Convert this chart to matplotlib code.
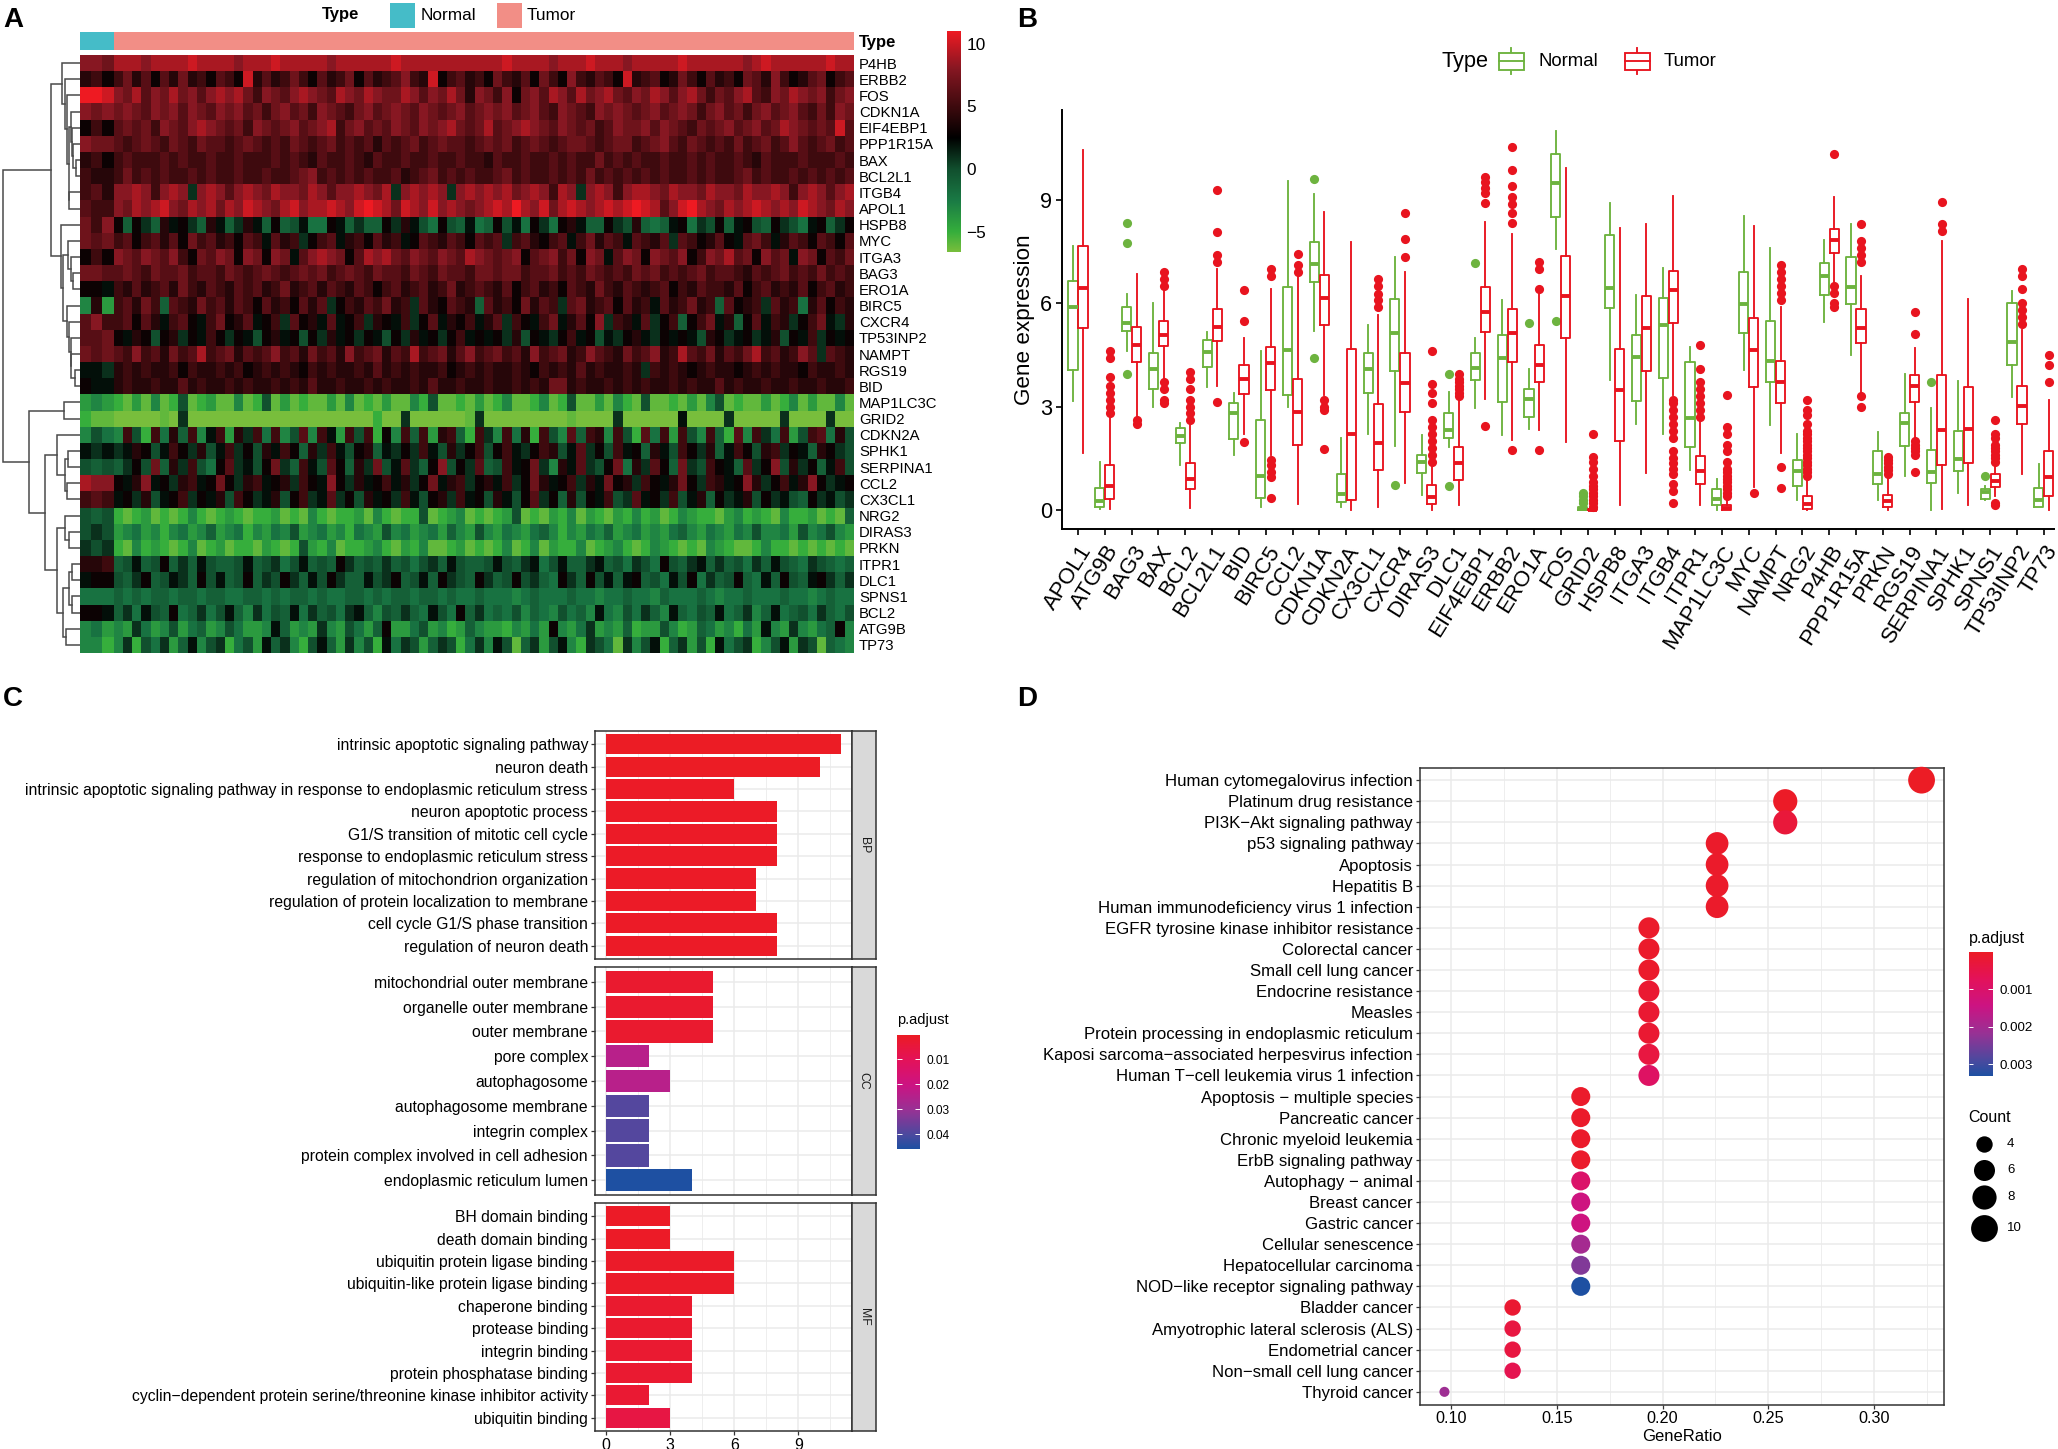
import numpy as np
import matplotlib
matplotlib.use('Agg')
import matplotlib.pyplot as plt
from matplotlib.colors import LinearSegmentedColormap, Normalize
from matplotlib.patches import Rectangle

plt.rcParams['font.family'] = ['Liberation Sans', 'DejaVu Sans']

W, H = 2058, 1449

# panel A: heatmap, rows top to bottom
hm_genes = ['P4HB','ERBB2','FOS','CDKN1A','EIF4EBP1','PPP1R15A','BAX','BCL2L1','ITGB4','APOL1','HSPB8','MYC','ITGA3','BAG3','ERO1A','BIRC5','CXCR4','TP53INP2','NAMPT','RGS19','BID','MAP1LC3C','GRID2','CDKN2A','SPHK1','SERPINA1','CCL2','CX3CL1','NRG2','DIRAS3','PRKN','ITPR1','DLC1','SPNS1','BCL2','ATG9B','TP73']
n_normal = 24
n_tumor = 527
hm_normal = [
 [8,8,7],[4,5,3],[11,11,10],[8,7,8],[3,5,3],[8,7,7],[4,5,3],[5,4,4],[5,6,4],[6,5,5],[7,5,8],[7,6,7],[3,5,3],[7,7,6],[3,3,2],
 [-3,4,-4],[6,8,5],[6,6,7],[7,6,7],[2,2,1],[3,2,2],[-4,-3,-4],[-5,-6,-6],[-3,0,-2],[2,1,2],[0,-1,0],[9,8,8],[5,6,5],
 [0,-1,0],[0,1,0],[1,0,1],[4,4,5],[2,3,3],[-2,-2,-2],[3,3,2],[-3,-2,-4],[-3,-3,-5]]
hm_tumor = [
 [9,9,9,8,9,9,9,9,10,9,9,9,9,8,9,9,9,10,9,9,9,9,9,8,9,9,9,9,9,9,10,9,9,9,9,9,9,9,9,9,9,9,10,9,9,9,9,8,9,9,9,10,9,9,9,8,9,9,9,9,9,10,9,9,9,9,9,9,8,9,10,9,9,9,9,9,9,10,9,9],
 [5,7,4,6,3,6,4,7,4,5,3,6,5,3,10,4,6,4,5,7,5,3,6,4,5,7,3,6,4,5,6,8,5,4,10,3,5,6,4,5,3,7,5,4,6,3,7,5,3,8,5,4,6,5,3,10,4,5,6,3,4,7,5,3,6,4,5,3,7,6,4,8,5,3,4,6,7,3,5,6],
 [8,7,9,6,8,7,9,7,8,6,8,9,8,9,7,5,8,7,6,8,9,8,7,6,9,8,7,9,8,7,7,9,8,6,8,7,9,7,4,8,7,5,8,3,7,8,6,9,8,6,9,7,8,9,7,6,8,7,9,8,6,8,9,7,5,7,6,8,9,6,5,8,7,9,8,7,8,5,7,8],
 [7,8,7,6,8,7,8,6,8,7,6,8,7,8,6,7,5,7,8,6,7,5,8,7,6,5,7,8,6,7,8,7,6,8,7,6,7,8,6,7,8,7,8,6,7,8,6,5,8,7,6,5,8,7,8,7,6,7,8,6,7,8,7,5,7,8,6,7,5,7,8,6,7,8,6,5,7,5,8,7],
 [6,7,6,7,5,8,7,6,8,9,8,7,6,7,5,8,7,6,7,8,6,7,8,9,5,7,8,6,7,6,8,7,6,8,7,8,9,7,6,7,9,6,7,8,9,8,7,6,8,7,6,7,5,6,8,7,7,8,6,8,7,6,5,7,6,7,8,6,7,8,6,7,9,8,7,6,7,6,10,6],
 [6,5,6,7,6,5,7,6,5,7,6,6,5,6,7,6,5,6,5,7,6,5,6,7,5,6,5,6,4,6,5,6,7,5,6,7,6,6,5,6,7,6,7,5,6,7,6,5,6,7,7,6,5,6,7,7,5,6,7,8,6,5,7,6,5,6,5,7,5,6,7,5,6,8,6,5,6,7,5,6],
 [5,6,5,5,5,6,5,6,5,5,6,5,5,6,5,5,5,6,5,6,5,4,6,5,5,6,5,4,6,5,5,6,5,5,6,5,5,6,5,5,4,6,5,5,6,5,5,6,5,6,5,5,7,5,6,5,6,5,5,6,5,5,6,5,6,5,5,6,5,4,6,5,5,5,6,5,5,5,6,5],
 [5,7,5,6,5,6,5,5,6,5,6,5,5,6,5,5,6,5,5,6,7,8,5,6,5,6,5,6,5,5,6,4,5,6,7,5,6,5,6,5,5,6,7,5,6,5,5,6,5,6,5,7,5,6,5,6,5,6,5,6,5,5,6,5,6,5,5,6,7,5,6,5,5,6,5,6,5,6,5,6],
 [8,8,9,8,5,8,9,8,1,8,9,8,6,8,9,8,7,9,8,8,7,9,8,6,8,8,9,8,7,9,1,8,9,8,9,8,1,8,9,8,9,8,9,7,8,9,8,5,9,8,1,8,9,8,5,8,9,9,8,7,9,8,8,7,9,8,8,7,9,8,8,9,8,5,8,9,8,6,8,9],
 [8,7,9,8,9,10,8,7,9,8,9,7,9,8,10,9,8,7,9,10,8,9,9,10,9,8,10,11,10,9,7,10,9,8,10,8,9,8,7,8,9,10,9,11,9,8,10,7,9,10,9,8,9,10,9,10,11,10,9,6,8,10,11,9,8,7,9,8,9,10,9,8,9,8,10,9,8,7,9,8],
 [3,-1,3,1,-1,4,2,3,1,-1,4,2,-1,1,4,2,-1,3,-1,0,2,-2,-2,3,2,-1,1,-1,-1,3,1,4,2,0,-2,3,0,-1,2,-2,-1,3,0,2,-2,3,1,-2,3,4,2,-1,-1,3,1,0,4,-1,-2,-1,2,3,-2,1,0,3,-1,2,3,0,-1,3,1,0,-2,2,3,-1,1,3],
 [5,6,3,5,6,4,6,3,7,5,6,4,5,3,6,5,2,6,4,5,1,3,5,6,2,4,5,3,6,4,5,2,3,6,5,4,6,5,3,6,5,6,1,5,6,4,3,5,6,2,5,7,4,6,5,2,6,5,4,6,1,6,5,3,4,6,3,2,6,7,5,2,4,6,5,3,6,5,3,6],
 [8,7,6,8,7,6,8,5,3,7,6,8,7,3,8,7,3,8,7,2,6,8,9,8,7,3,6,9,8,9,7,6,8,7,6,8,7,6,9,8,7,6,7,8,3,6,7,8,5,7,3,8,7,2,6,8,7,3,8,7,6,8,3,5,8,7,9,6,7,3,8,6,7,2,8,7,3,6,5,7],
 [6,7,6,5,7,6,6,7,5,6,6,5,7,6,5,6,7,6,5,6,7,6,7,5,6,7,6,5,7,6,6,5,7,6,5,7,6,6,5,7,7,6,7,7,5,6,6,7,5,6,5,7,6,5,6,5,7,6,7,5,6,5,6,7,5,6,6,5,4,6,5,6,7,5,6,5,7,5,6,5],
 [5,4,6,4,5,6,4,7,5,4,6,5,4,6,5,6,4,5,7,4,5,6,4,6,5,4,6,5,3,5,6,4,5,6,4,5,7,4,5,6,5,4,6,3,5,6,4,5,3,6,5,4,7,5,4,6,5,4,5,6,3,5,4,6,5,5,4,6,3,5,6,4,5,4,6,3,5,6,4,5],
 [5,6,4,7,5,-1,6,5,4,7,5,6,4,6,5,3,6,4,5,3,6,4,6,1,3,5,4,6,5,7,4,5,1,6,4,3,6,5,4,-1,6,4,5,3,7,4,6,5,1,6,7,4,5,6,3,6,4,5,2,6,4,5,7,4,5,-1,6,3,4,5,1,6,4,5,-2,4,6,3,5,4],
 [5,6,3,6,4,2,5,6,3,2,5,7,3,4,6,2,3,5,1,6,3,4,2,6,2,3,5,1,4,3,2,5,1,3,6,2,4,3,5,2,4,6,1,5,3,2,5,7,2,4,6,3,8,1,5,4,2,6,1,3,5,-1,3,5,7,2,4,-1,3,6,2,5,4,1,3,5,7,2,1,4],
 [3,2,4,3,0,3,4,1,3,2,5,3,1,3,2,0,3,4,2,3,0,3,1,4,2,3,1,3,2,0,3,1,4,2,3,1,3,5,2,3,2,3,1,4,0,3,2,1,3,5,2,3,0,2,1,3,4,2,1,3,2,3,2,0,4,3,1,2,3,1,2,4,0,3,2,5,1,3,2,3],
 [6,5,8,5,6,4,7,5,6,9,5,6,7,4,6,5,6,8,5,6,4,7,5,6,4,8,5,6,7,4,6,5,9,5,6,7,4,6,8,5,6,7,5,6,4,8,5,6,7,4,5,8,6,5,4,7,5,6,8,4,5,9,6,5,7,4,6,5,7,9,5,6,4,5,8,6,1,6,5,4],
 [4,5,4,5,4,4,5,3,5,4,4,5,4,5,3,4,5,4,5,4,3,5,4,5,4,4,5,4,6,4,5,4,5,4,4,5,3,4,5,4,5,4,4,5,4,3,5,4,5,4,6,4,5,4,4,5,4,1,5,4,5,4,3,4,5,4,4,3,4,5,4,5,4,4,3,5,4,4,5,4],
 [4,5,4,4,5,4,4,6,4,5,4,4,5,4,5,4,4,5,4,5,4,6,4,4,5,4,4,5,4,5,4,4,5,4,6,4,4,5,4,4,5,4,4,5,4,5,4,7,7,4,5,4,4,5,4,5,4,5,4,4,5,4,5,4,4,6,4,5,4,4,5,4,4,5,4,4,5,4,4,5],
 [-5,-6,-4,-6,-3,-6,-5,0,-6,-5,-4,-6,-6,-3,-6,-5,0,-6,-4,-6,-5,-6,-6,-4,-6,-3,-6,-5,-6,-4,-6,-6,-3,-5,0,-6,-6,-5,-6,-4,-6,-5,-3,-6,-6,-5,-3,-6,-5,0,-6,-6,-4,-6,-3,-5,-6,0,-6,-6,-5,-6,-4,-6,-3,0,-6,-5,-6,-6,-4,-6,-5,-3,-6,-4,-6,-6,-3,-6],
 [-7,-7,-7,-7,-7,-6,-7,1,-7,-7,-7,-7,-7,-7,-7,-7,-7,-7,-7,-7,-7,-7,-7,-7,-7,-7,-7,-7,-5,-7,-7,1,-7,-7,-7,-7,-7,-7,-6,1,-7,-7,-7,-7,-7,-7,-7,-7,-7,-6,-7,-7,-7,-7,1,-7,-7,-7,-7,-7,-7,2,-7,-7,-7,-7,1,-7,-7,-7,-7,-7,1,-7,-7,-7,-7,1,-7,-7],
 [-3,5,0,-5,5,-2,4,-1,5,-3,2,5,-4,4,1,5,-2,5,-3,0,6,-3,5,2,-4,5,0,5,-5,3,-3,5,-1,5,-4,4,5,-1,-5,5,1,-3,5,-2,4,-5,5,0,-3,6,-1,5,4,-3,5,0,-5,6,-2,5,-4,5,0,-3,5,-1,-5,6,-3,5,1,-2,5,-4,0,5,6,-2,4,0],
 [1,2,4,3,0,2,5,3,1,4,0,2,5,1,3,0,4,2,5,3,-1,4,1,5,2,0,3,4,-1,2,1,3,1,5,2,0,4,1,3,5,0,3,5,2,1,3,5,4,0,2,6,1,3,0,5,2,3,-1,4,2,0,5,3,1,4,-1,2,5,3,0,4,5,1,3,2,-1,4,3,1,0],
 [-1,1,3,0,7,-1,4,1,5,0,-2,3,6,1,2,0,3,7,1,-1,5,2,0,6,3,-1,4,1,7,0,2,6,1,-1,3,8,0,3,1,6,-1,0,5,2,3,7,1,-3,4,2,6,1,0,3,7,-2,4,1,6,3,-1,7,1,0,5,3,2,-1,6,1,3,8,0,4,1,3,-1,2,5,0],
 [3,2,4,8,2,3,1,4,5,2,3,7,3,1,4,5,2,3,4,1,5,3,2,8,3,1,4,2,3,5,2,4,1,3,7,2,4,5,1,3,4,2,5,1,3,7,4,2,3,5,1,4,2,7,3,4,1,5,3,2,4,7,3,1,5,4,2,3,8,4,1,3,5,2,4,8,3,1,2,3],
 [2,3,1,4,0,2,3,5,1,3,2,4,0,5,3,1,2,4,0,3,5,1,2,6,1,3,0,4,2,3,1,5,2,0,3,4,1,5,2,3,0,4,2,0,3,6,1,3,-1,4,0,3,2,5,0,1,6,2,3,1,5,0,2,4,-1,3,1,2,4,0,3,1,2,0,-1,3,1,2,0,1],
 [-5,-6,-5,-4,-6,-5,-6,-5,-3,-5,-6,-5,-4,-5,-6,-5,-5,-4,-6,-5,-6,-3,-5,-6,-5,-5,-4,-6,-3,-5,-6,-5,-5,0,-6,-5,-4,-3,-6,-5,-6,-5,-4,0,-6,-5,-6,-4,-5,-3,-6,-4,-5,-6,-4,-5,-3,-5,-4,-6,-5,-3,-4,-5,-5,-6,-4,-3,-5,-4,-5,-6,-3,-5,-5,-4,-6,-5,-6,-1],
 [-4,-3,-2,-4,-3,-5,-3,-2,-4,-3,-1,-4,-3,-2,-5,-3,-4,-2,-3,0,-4,-3,-2,-4,-3,-5,-2,-3,-4,0,-3,-2,-4,-3,-2,-4,-1,-3,-4,0,-3,-4,-2,-3,-4,-2,-1,-3,-5,-3,-4,-2,-3,-1,-4,-3,-2,-4,-3,-4,-2,-1,-3,-4,-2,-3,-4,-2,-3,0,-3,-3,-2,-4,0,-3,-2,0,-3,-4],
 [-5,-6,-3,-5,-4,-5,-6,-5,-3,-6,-5,-4,-6,-5,-5,-6,-4,-5,-6,-5,0,-4,-5,-3,-6,-5,-5,-4,-3,-5,-6,-4,-5,-3,-6,-6,-5,-4,-6,-5,-6,-5,-3,-6,-5,-3,-6,-4,-5,-5,-3,-6,-5,-4,-3,-5,-6,-5,-3,-4,-5,-6,-5,-6,-3,-4,-5,-6,-6,-5,-3,-5,-5,-6,-5,-6,-5,-6,-5,-6],
 [-1,0,2,-1,0,3,-1,1,-1,2,0,-1,-1,0,2,-1,0,1,-2,0,2,-1,0,-1,3,1,-1,0,-1,1,-1,0,-2,0,1,-1,2,0,-1,-1,0,2,0,-1,1,2,-2,0,2,-1,-1,1,2,-1,0,-2,1,0,-2,3,0,-1,1,2,-1,1,-1,0,-2,1,-1,2,0,-1,-2,1,0,-1,-2,-1],
 [0,-1,1,3,-1,0,2,1,-1,3,0,2,-1,0,3,-1,1,0,3,1,-1,2,0,3,1,-1,-1,2,0,1,3,-1,0,2,-1,3,1,0,-1,3,1,-1,0,3,0,1,-1,-2,3,1,-1,3,0,2,-1,2,3,-1,0,-2,2,0,3,-2,1,-1,0,3,-1,-2,2,-1,3,0,-1,2,3,1,-1,1],
 [-1,-2,-1,-2,-1,-1,-2,-1,-1,-2,-1,-1,-2,-2,-1,-1,-2,-1,-2,-1,-1,-2,-1,-2,-2,-1,-1,-2,-1,-2,-1,-1,-2,-1,-1,-2,-1,-2,-2,-1,-2,-2,-2,-3,-2,-1,-2,-2,-2,-1,-2,-2,-3,-2,-2,-1,-2,-2,-3,-1,-2,-2,-2,-1,-2,-3,-2,-2,-1,-2,-2,-2,-1,-2,-2,-3,-2,-1,-2,-2],
 [-1,1,-2,2,0,-1,3,-2,-1,1,-2,0,2,-1,-3,1,-2,0,-1,2,-2,1,-1,0,-2,1,2,-1,-3,0,-1,1,-1,-2,2,0,-2,3,-1,1,-2,-1,-2,0,-3,-1,-2,-3,0,-2,-1,-3,2,-2,-3,0,-2,1,-1,-3,2,-1,-2,0,-1,2,-2,-1,1,-3,-1,2,-2,-1,0,-2,1,-1,-2,0],
 [-3,-4,1,-2,-4,-3,0,-4,-2,-1,-4,-3,0,-2,-4,-4,-3,2,-1,-4,-3,-4,1,-3,-4,0,-2,-4,-1,3,-4,-4,-2,0,-4,-3,-5,-4,-1,-3,-4,-4,-5,-3,-4,-2,-4,3,-3,-4,-2,1,-4,-3,-4,-1,-5,-4,-4,0,-3,-5,-4,-1,-2,-4,-3,-5,-2,-4,2,-3,-4,1,-3,-4,-2,-1,3,-3],
 [-3,1,-5,0,-2,1,-4,-1,2,-3,0,1,-5,-2,0,-4,2,-1,1,-3,-5,0,2,-1,-4,1,-3,0,-5,2,-2,1,0,-4,-1,1,0,-5,-2,1,-3,2,0,-6,-1,1,-4,0,2,-3,-5,1,0,-2,-6,1,-3,0,2,-5,-1,1,-4,0,-5,2,-2,0,1,-5,-3,0,2,-4,1,0,-6,-1,-2,-3]]

# dendrogram: (height, child, child), leaves are row numbers
tree_top = (29, (17.7, 0, (14.7, 1, (13, 2, (11.5, (9.3, 3, (8, 4, (6.7, 5, (4, 6, 7)))), (10.7, 8, 9))))),
            (19.3, 10, (17.3, (12, 11, (9.3, 12, (7.3, 13, 14))),
                        (12.7, 15, (10.7, 16, (9.3, 17, (8.7, 18, (5.3, 19, 20))))))))
tree_low = (50.7, (16, 21, 22),
            (34.7, (22.7, 23, (15, (11.7, 24, 25), (13.3, 26, 27))),
             (22.7, (15, 28, (11, 29, 30)),
              (16.7, (10.7, (8.3, 31, 32), (8.3, 33, 34)), (14.3, 35, 36)))))
tree = (77, tree_top, tree_low)

# panel B: box statistics per gene
box_genes = ['APOL1','ATG9B','BAG3','BAX','BCL2','BCL2L1','BID','BIRC5','CCL2','CDKN1A','CDKN2A','CX3CL1','CXCR4','DIRAS3','DLC1','EIF4EBP1','ERBB2','ERO1A','FOS','GRID2','HSPB8','ITGA3','ITGB4','ITPR1','MAP1LC3C','MYC','NAMPT','NRG2','P4HB','PPP1R15A','PRKN','RGS19','SERPINA1','SPHK1','SPNS1','TP53INP2','TP73']
normal_lo  = [3.15,0.04,4.6,3.0,1.3,3.57,1.6,0.1,3.0,5.18,0.1,2.2,1.87,0.43,1.83,2.96,2.17,2.36,7.56,0.0,3.78,2.49,2.2,1.15,0.0,4.07,2.46,0.3,5.46,4.5,0.28,0.99,0.0,0.5,0.28,3.28,0.09]
normal_q1  = [4.07,0.1,5.2,3.5,1.93,4.15,2.07,0.36,3.33,6.6,0.23,3.38,4.03,1.08,2.09,3.77,3.14,2.7,8.5,0.0,5.85,3.16,3.84,1.83,0.16,5.12,3.72,0.7,6.24,5.97,0.75,1.86,0.79,1.12,0.33,4.2,0.1]
normal_med = [5.9,0.25,5.43,4.08,2.14,4.59,2.8,0.99,4.64,7.13,0.47,4.08,5.12,1.39,2.31,4.12,4.41,3.23,9.48,0.04,6.45,4.44,5.38,2.68,0.33,5.97,4.32,1.13,6.79,6.48,1.04,2.51,1.1,1.47,0.52,4.88,0.28]
normal_q3  = [6.65,0.65,5.9,4.54,2.38,4.93,3.09,2.62,6.46,7.78,1.05,4.54,6.12,1.6,2.8,4.54,5.09,3.52,10.33,0.1,7.97,5.09,6.14,4.28,0.62,6.91,5.48,1.44,7.17,7.35,1.71,2.8,1.73,2.29,0.6,6.0,0.65]
normal_hi  = [7.65,1.4,6.25,6.0,2.53,5.15,3.4,4.6,9.54,9.15,2.1,5.37,7.35,2.17,3.43,4.98,6.1,4.1,11.0,0.12,8.9,6.24,7.03,4.73,0.91,8.52,7.6,2.2,7.83,8.3,2.25,3.94,2.97,3.74,0.69,6.34,1.33]
normal_out = [[],[],[3.95,7.73,8.33],[],[],[],[],[],[],[4.41,9.59],[],[],[0.73],[],[0.7,3.94],[7.15],[],[5.43],[5.49],[0.2,0.3,0.4,0.5],[],[],[],[],[],[],[],[],[],[],[],[],[3.7],[],[1.0],[],[]]
tumor_lo  = [1.64,0.03,2.7,3.77,0.07,3.6,2.2,1.6,0.18,3.33,0.0,0.09,0.77,0.0,0.14,3.23,2.04,2.31,1.97,0.0,0.16,1.08,3.35,0.14,0.0,0.67,1.66,0.0,6.6,3.28,0.0,1.83,0.04,0.14,0.4,1.05,0.0]
tumor_q1  = [5.28,0.33,4.28,4.76,0.6,4.9,3.36,3.47,1.9,5.36,0.3,1.15,2.83,0.18,0.86,5.15,4.28,3.72,5.0,0.0,2.0,4.03,5.43,0.75,0.0,3.57,3.11,0.04,7.46,4.83,0.1,3.14,1.3,1.36,0.67,2.49,0.4]
tumor_med = [6.43,0.69,4.8,5.09,0.91,5.31,3.81,4.25,2.83,6.16,2.2,1.93,3.67,0.38,1.35,5.73,5.12,4.2,6.21,0.0,3.48,5.27,6.38,1.12,0.05,4.64,3.7,0.17,7.83,5.29,0.25,3.59,2.31,2.35,0.83,3.01,0.96]
tumor_q3  = [7.66,1.3,5.3,5.48,1.35,5.82,4.2,4.73,3.81,6.82,4.66,3.07,4.54,0.72,1.83,6.48,5.83,4.8,7.38,0.02,4.66,6.22,6.94,1.57,0.15,5.57,4.32,0.4,8.14,5.83,0.45,3.91,3.91,3.57,1.04,3.59,1.71]
tumor_hi  = [10.45,2.7,6.85,6.4,2.46,7.0,5.0,6.4,6.87,8.65,7.76,5.65,6.9,1.35,3.18,8.35,8.0,6.25,9.91,0.05,8.18,8.3,9.1,2.65,0.37,8.23,5.9,0.95,9.08,6.8,1.0,4.7,7.8,6.12,1.35,5.23,3.18]
tumor_out = [
 [],[2.8,3.0,3.2,3.4,3.6,3.85,4.4,4.6],[2.5,2.6],[3.1,3.2,3.5,3.7,6.5,6.7,6.9],[2.6,2.8,3.0,3.2,3.5,3.8,4.0],
 [3.14,7.2,7.4,8.07,9.29],[1.97,5.47,6.38],[0.35,0.95,1.1,1.3,1.45,6.8,7.0],[6.9,7.1,7.41],[1.78,2.9,3.0,3.2],
 [],[5.9,6.1,6.25,6.5,6.7],[7.35,7.85,8.6],[1.4,1.6,1.8,2.0,2.2,2.4,2.6,3.1,3.4,3.65,4.6],[3.3,3.4,3.5,3.6,3.7,3.8,3.95],
 [2.45,8.9,9.2,9.35,9.5,9.65],[1.75,8.33,8.6,8.88,9.08,9.41,9.85,10.52],[1.75,6.4,7.0,7.2],[],
 [0.1,0.2,0.3,0.4,0.5,0.6,0.7,0.8,1.0,1.2,1.4,1.55,2.2],[],[],
 [0.2,0.55,0.75,1.05,1.2,1.35,1.5,1.7,2.1,2.3,2.5,2.7,2.9,3.1,3.2],[2.7,2.9,3.1,3.3,3.5,3.7,4.1,4.8],
 [0.4,0.5,0.6,0.7,0.8,0.9,1.0,1.1,1.2,1.4,1.7,1.9,2.2,2.4,3.35],[0.5],[0.65,1.25,6.1,6.3,6.5,6.7,6.9,7.1],
 [1.0,1.1,1.2,1.3,1.4,1.5,1.6,1.7,1.8,1.9,2.0,2.1,2.2,2.3,2.5,2.75,2.9,3.2],[5.9,6.0,6.3,6.5,10.33],
 [3.0,3.3,7.2,7.4,7.6,7.8,8.3],[1.05,1.15,1.25,1.35,1.45,1.55],[1.1,1.6,1.7,1.8,1.9,2.0,5.1,5.75],[8.1,8.3,8.94],[],
 [0.15,0.2,1.4,1.5,1.6,1.7,1.8,1.9,2.1,2.2,2.6],[5.4,5.6,5.8,6.0,6.4,6.8,7.0],[3.7,4.2,4.5]]

# panel C: enrichment bars
bp_terms = ['intrinsic apoptotic signaling pathway','neuron death','intrinsic apoptotic signaling pathway in response to endoplasmic reticulum stress','neuron apoptotic process','G1/S transition of mitotic cell cycle','response to endoplasmic reticulum stress','regulation of mitochondrion organization','regulation of protein localization to membrane','cell cycle G1/S phase transition','regulation of neuron death']
bp_count = [11,10,6,8,8,8,7,7,8,8]
bp_p = [0.0002,0.0002,0.0006,0.0006,0.0006,0.0006,0.0006,0.0006,0.0006,0.0006]
cc_terms = ['mitochondrial outer membrane','organelle outer membrane','outer membrane','pore complex','autophagosome','autophagosome membrane','integrin complex','protein complex involved in cell adhesion','endoplasmic reticulum lumen']
cc_count = [5,5,5,2,3,2,2,2,4]
cc_p = [0.002,0.002,0.002,0.024,0.024,0.039,0.039,0.039,0.0458]
mf_terms = ['BH domain binding','death domain binding','ubiquitin protein ligase binding','ubiquitin-like protein ligase binding','chaperone binding','protease binding','integrin binding','protein phosphatase binding','cyclin\u2212dependent protein serine/threonine kinase inhibitor activity','ubiquitin binding']
mf_count = [3,3,6,6,4,4,4,4,2,3]
mf_p = [0.0006,0.0006,0.001,0.001,0.002,0.002,0.0025,0.0025,0.003,0.006]

# panel D: KEGG dots
kegg_terms = ['Human cytomegalovirus infection','Platinum drug resistance','PI3K\u2212Akt signaling pathway','p53 signaling pathway','Apoptosis','Hepatitis B','Human immunodeficiency virus 1 infection','EGFR tyrosine kinase inhibitor resistance','Colorectal cancer','Small cell lung cancer','Endocrine resistance','Measles','Protein processing in endoplasmic reticulum','Kaposi sarcoma\u2212associated herpesvirus infection','Human T\u2212cell leukemia virus 1 infection','Apoptosis \u2212 multiple species','Pancreatic cancer','Chronic myeloid leukemia','ErbB signaling pathway','Autophagy \u2212 animal','Breast cancer','Gastric cancer','Cellular senescence','Hepatocellular carcinoma','NOD\u2212like receptor signaling pathway','Bladder cancer','Amyotrophic lateral sclerosis (ALS)','Endometrial cancer','Non\u2212small cell lung cancer','Thyroid cancer']
kegg_count = [10,8,8,7,7,7,7,6,6,6,6,6,6,6,6,5,5,5,5,5,5,5,5,5,5,4,4,4,4,3]
kegg_p = [0.00002,0.00005,0.0003,0.0001,0.0001,0.0001,0.0001,0.0001,0.0001,0.0001,0.0002,0.0002,0.0002,0.0004,0.0009,0.0001,0.0001,0.0001,0.0001,0.0010,0.0014,0.0014,0.0020,0.0024,0.00331,0.0002,0.0004,0.0004,0.0006,0.0021]
gene_total = 31

green_red = LinearSegmentedColormap.from_list('gr', [(0, '#78BE3C'), (1.6/17.6, '#35AE3C'), (4.1/17.6, '#1A7A45'), (6.6/17.6, '#114F2E'), (9.1/17.6, '#000000'), (11.6/17.6, '#3E0A0E'), (14.6/17.6, '#861722'), (1, '#EE1A22')])
red_blue = LinearSegmentedColormap.from_list('rb', [(0, '#EC1C24'), (.22, '#E4125A'), (.44, '#CC1483'), (.66, '#983295'), (.88, '#4A4A9F'), (1, '#1E50A2')])
GREEN = '#6DB33F'
RED = '#E8141F'
GRID = '#EBEBEB'
EDGE = '#333333'

fig = plt.figure(figsize=(W/100, H/100), dpi=100, facecolor='white')


def px_axes(l, t, r, b):
    return fig.add_axes([l/W, 1-b/H, (r-l)/W, (b-t)/H])


# panel A
hm_norm = Normalize(-6.6, 11)
n_all = n_normal + n_tumor
ax = px_axes(80, 55, 854, 653)
for r in range(len(hm_genes)):
    ax.pcolormesh(np.linspace(0, n_normal, len(hm_normal[r])+1), [r, r+1], [hm_normal[r]], cmap=green_red, norm=hm_norm)
    ax.pcolormesh(np.linspace(n_normal, n_all, len(hm_tumor[r])+1), [r, r+1], [hm_tumor[r]], cmap=green_red, norm=hm_norm)
ax.set_xlim(0, n_all)
ax.set_ylim(len(hm_genes), 0)
ax.set_xticks([])
ax.yaxis.tick_right()
ax.set_yticks(np.arange(len(hm_genes))+.5)
ax.set_yticklabels(hm_genes, fontsize=10.7)
ax.tick_params(axis='y', length=0, pad=3.5)
for s in ax.spines.values():
    s.set_visible(False)

ax = px_axes(80, 32, 854, 50)
ax.barh(0, n_normal, height=1, color='#45BCC8')
ax.barh(0, n_tumor, left=n_normal, height=1, color='#F28E86')
ax.set_xlim(0, n_all)
ax.set_ylim(-.5, .5)
ax.axis('off')

# dendrogram drawn from the merge heights
ax = px_axes(0, 55, 80, 653)
ax.set_xlim(80, 0)
ax.set_ylim(len(hm_genes), 0)
ax.axis('off')


def draw_tree(node):
    if not isinstance(node, tuple):
        return node+.5, 0
    ya, ha = draw_tree(node[1])
    yb, hb = draw_tree(node[2])
    ax.plot([ha, node[0], node[0], hb], [ya, ya, yb, yb], color='#4a4a4a', lw=1.1, solid_joinstyle='miter')
    return (ya+yb)/2, node[0]


draw_tree(tree)

ax = px_axes(947, 31, 961, 252)
ax.imshow(np.linspace(11, -6.6, 256)[:, None], cmap=green_red, norm=hm_norm, aspect='auto', extent=[0, 1, -6.6, 11])
ax.set_xticks([])
ax.yaxis.tick_right()
ax.set_yticks([10, 5, 0, -5])
ax.tick_params(axis='y', length=0, labelsize=12.4, pad=4)
for s in ax.spines.values():
    s.set_visible(False)


# panel B
def make_stats(lo, q1, med, q3, hi, out):
    return [dict(whislo=a, q1=b, med=c, q3=d, whishi=e, fliers=f) for a, b, c, d, e, f in zip(lo, q1, med, q3, hi, out)]


ax = px_axes(1062, 110, 2054, 529)
pos = np.arange(1, len(box_genes)+1)
for stats, off, col in [(make_stats(normal_lo, normal_q1, normal_med, normal_q3, normal_hi, normal_out), -.1875, GREEN),
                        (make_stats(tumor_lo, tumor_q1, tumor_med, tumor_q3, tumor_hi, tumor_out), .1875, RED)]:
    ax.bxp(stats, positions=pos+off, widths=.34, showcaps=False, manage_ticks=False,
           boxprops=dict(color=col, lw=1.35), whiskerprops=dict(color=col, lw=1.35),
           medianprops=dict(color=col, lw=2.8, solid_capstyle='butt'),
           flierprops=dict(marker='o', markerfacecolor=col, markeredgecolor=col, markersize=6.6, markeredgewidth=0))
ax.set_xlim(.404, 37.38)
ax.set_ylim(-.55, 11.6)
ax.set_xticks(pos)
ax.set_xticklabels(box_genes, rotation=58, ha='right', va='top', rotation_mode='anchor', fontsize=16)
ax.set_yticks([0, 3, 6, 9])
ax.tick_params(axis='y', labelsize=15.7, length=4, width=1.2, pad=3)
ax.tick_params(axis='x', length=4, width=1.2, pad=5)
ax.set_ylabel('Gene expression', fontsize=16.2, labelpad=4)
for s in ['top', 'right']:
    ax.spines[s].set_visible(False)
for s in ['left', 'bottom']:
    ax.spines[s].set_linewidth(1.4)

# panel C
p_norm_c = Normalize(0, 0.0458)
facets = [('BP', bp_terms, bp_count, bp_p, 731, 959), ('CC', cc_terms, cc_count, cc_p, 967, 1195), ('MF', mf_terms, mf_count, mf_p, 1203, 1431)]
for name, terms, count, p, top, bot in facets:
    ax = px_axes(595, top, 852, bot)
    y = np.arange(len(terms))
    ax.set_axisbelow(True)
    ax.set_xticks([0, 3, 6, 9])
    ax.set_xticks([1.5, 4.5, 7.5, 10.5], minor=True)
    ax.grid(which='major', color=GRID, lw=1.1)
    ax.grid(which='minor', axis='x', color=GRID, lw=.6)
    ax.barh(y, count, height=.9, color=red_blue(p_norm_c(p)))
    ax.set_xlim(-.53, 11.52)
    ax.set_ylim(len(terms)-.4, -.6)
    ax.set_yticks(y)
    ax.set_yticklabels(terms, fontsize=11.3, color='black')
    ax.tick_params(axis='y', length=3, width=.9, color=EDGE, pad=2)
    ax.tick_params(axis='x', which='minor', length=0)
    if name == 'MF':
        ax.tick_params(axis='x', which='major', labelsize=11.5, length=3, width=.9, color=EDGE, pad=2)
    else:
        ax.tick_params(axis='x', which='major', length=0, labelbottom=False)
    for s in ax.spines.values():
        s.set_color(EDGE)
        s.set_linewidth(1.1)
    st = px_axes(852, top, 875.7, bot)
    st.set_facecolor('#D9D9D9')
    st.set_xticks([])
    st.set_yticks([])
    for s in st.spines.values():
        s.set_color(EDGE)
        s.set_linewidth(1.1)
    st.text(.5, .5, name, rotation=-90, ha='center', va='center', fontsize=8.8, color='#1A1A1A', transform=st.transAxes)


def grad_legend(l, t, r, b, vmax, ticks, labels, fs):
    a = px_axes(l, t, r, b)
    a.imshow(np.linspace(0, vmax, 256)[:, None], cmap=red_blue, norm=Normalize(0, vmax), aspect='auto', extent=[0, 1, vmax, 0])
    a.hlines(ticks, 0, .2, color='white', lw=.7)
    a.hlines(ticks, .8, 1, color='white', lw=.7)
    a.set_xticks([])
    a.yaxis.tick_right()
    a.set_yticks(ticks)
    a.set_yticklabels(labels, fontsize=fs)
    a.tick_params(axis='y', length=0, pad=5)
    for s in a.spines.values():
        s.set_visible(False)


grad_legend(897, 1034.5, 920, 1148.5, 0.0458, [.01, .02, .03, .04], ['0.01', '0.02', '0.03', '0.04'], 8.6)

# panel D
p_norm_d = Normalize(0, 0.00331)


def dot_area(c):
    # ggplot scale_size: range 3 to 8, diameter in px then area in pt^2
    d = (3 + 5*np.sqrt((np.asarray(c, float)-3)/7))*3.35
    return (d*.72)**2


ax = px_axes(1420, 767.5, 1944, 1404.5)
y = np.arange(len(kegg_terms))
ax.set_axisbelow(True)
ax.set_xticks([.10, .15, .20, .25, .30])
ax.set_xticklabels(['0.10', '0.15', '0.20', '0.25', '0.30'])
ax.set_xticks([.125, .175, .225, .275, .325], minor=True)
ax.grid(which='major', color=GRID, lw=1.1)
ax.grid(which='minor', axis='x', color=GRID, lw=.6)
ax.scatter(np.array(kegg_count)/gene_total, y, s=dot_area(kegg_count), c=red_blue(p_norm_d(kegg_p)), linewidths=0, zorder=3, clip_on=False)
ax.set_xlim(.0852, .3332)
ax.set_ylim(len(kegg_terms)-.4, -.6)
ax.set_yticks(y)
ax.set_yticklabels(kegg_terms, fontsize=12.05)
ax.tick_params(axis='y', length=3, width=.9, color=EDGE, pad=2)
ax.tick_params(axis='x', which='major', labelsize=11.7, length=3, width=.9, color=EDGE, pad=2)
ax.tick_params(axis='x', which='minor', length=0)
ax.set_xlabel('GeneRatio', fontsize=12, labelpad=2)
for s in ax.spines.values():
    s.set_color(EDGE)
    s.set_linewidth(1.1)

grad_legend(1968.6, 952, 1992.5, 1076, 0.00331, [.001, .002, .003], ['0.001', '0.002', '0.003'], 9.6)

# legends and panel letters, in pixel coordinates on a top layer
ov = fig.add_axes([0, 0, 1, 1])
ov.set_xlim(0, W)
ov.set_ylim(H, 0)
ov.axis('off')

for letter, lx, ly in [('A', 3, 20), ('B', 1017, 20), ('C', 3, 699), ('D', 1017, 699)]:
    ov.text(lx, ly, letter, fontsize=20, fontweight='bold', va='center', ha='left')

ov.text(341, 15, 'Type', fontsize=12, fontweight='bold', ha='center', va='center')
ov.add_patch(Rectangle((390, 3), 25, 25, color='#45BCC8', lw=0))
ov.text(421, 16, 'Normal', fontsize=12.4, va='center')
ov.add_patch(Rectangle((497, 3), 25, 25, color='#F28E86', lw=0))
ov.text(527, 16, 'Tumor', fontsize=12.4, va='center')
ov.text(859, 42, 'Type', fontsize=12, fontweight='bold', va='center')

ov.text(1442, 62, 'Type', fontsize=15.7, va='center')
for kx, col, lab, tx in [(1511, GREEN, 'Normal', 1538), (1637, RED, 'Tumor', 1664)]:
    ov.plot([kx, kx], [48, 74], color=col, lw=1.35)
    ov.add_patch(Rectangle((kx-12.5, 52.7), 25, 17.3, facecolor='white', edgecolor=col, lw=1.35, zorder=3))
    ov.plot([kx-12.5, kx+12.5], [61, 61], color=col, lw=1.35, zorder=4)
    ov.text(tx, 61, lab, fontsize=13.4, va='center')

ov.text(897, 1020, 'p.adjust', fontsize=10.5, va='center')
ov.text(1968.6, 938, 'p.adjust', fontsize=11.5, va='center')
ov.text(1968.6, 1117, 'Count', fontsize=11.5, va='center')
for cnt, ky in [(4, 1144), (6, 1169.7), (8, 1197), (10, 1228)]:
    ov.scatter([1983.7], [ky], s=dot_area(cnt), color='black', linewidths=0)
    ov.text(2007, ky, str(cnt), fontsize=9.5, va='center')

fig.savefig('out.png', dpi=100)
